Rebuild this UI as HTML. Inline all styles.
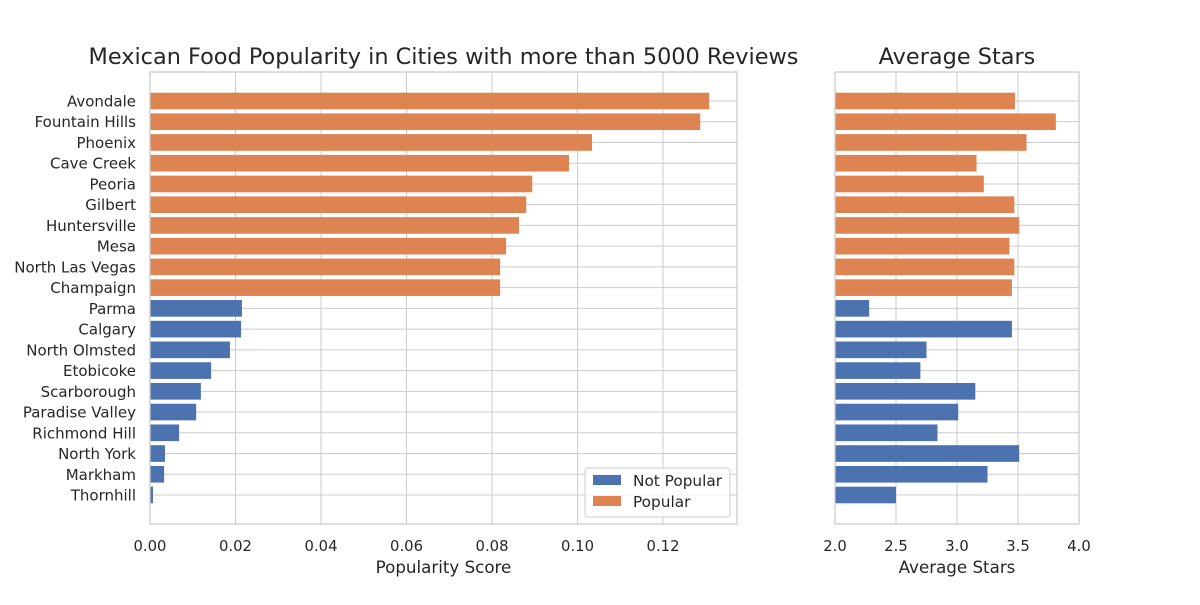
<!DOCTYPE html>
<html><head><meta charset="utf-8">
<style>
body{margin:0;background:#fff;}
svg text{font-family:"DejaVu Sans","Liberation Sans",sans-serif;fill:#262626;}
</style></head>
<body>
<svg id="chart" width="1200" height="600" xmlns="http://www.w3.org/2000/svg">
<rect width="1200" height="600" fill="#fff"/>
<g id="left"></g>
<g id="right"></g>
</svg>
<script>
const cities = ["Avondale","Fountain Hills","Phoenix","Cave Creek","Peoria","Gilbert","Huntersville","Mesa","North Las Vegas","Champaign","Parma","Calgary","North Olmsted","Etobicoke","Scarborough","Paradise Valley","Richmond Hill","North York","Markham","Thornhill"];
const popular = [1,1,1,1,1,1,1,1,1,1,0,0,0,0,0,0,0,0,0,0];
const popScores = [0.1308,0.1287,0.1034,0.098,0.0894,0.088,0.0863,0.0833,0.0819,0.0819,0.0215,0.0213,0.0187,0.0143,0.0119,0.0108,0.0068,0.0035,0.0033,0.0007];
const avgStars = [3.475,3.81,3.57,3.16,3.22,3.47,3.51,3.43,3.47,3.45,2.28,3.45,2.75,2.70,3.15,3.01,2.84,3.51,3.25,2.50];
const popTicks = [0,0.02,0.04,0.06,0.08,0.10,0.12];
const popTickLabels = ["0.00","0.02","0.04","0.06","0.08","0.10","0.12"];
const starTicks = [2.0,2.5,3.0,3.5,4.0];
const starTickLabels = ["2.0","2.5","3.0","3.5","4.0"];

const NS="http://www.w3.org/2000/svg";
const ORANGE="#dd8452", BLUE="#4c72b0";
function mk(parent,tag,attrs,text){const e=document.createElementNS(NS,tag);for(const k in attrs)e.setAttribute(k,attrs[k]);if(text!==undefined)e.textContent=text;parent.appendChild(e);return e;}
const plotTop=72,plotBottom=524;
const yRow=i=>101+i*(495-101)/19;
const rowH=20.8*0.8;

function panel(g,x0,x1,dmin,dmax,vals,ticks,labels,title,xlabel,showY){
  const sx=v=>x0+(v-dmin)/(dmax-dmin)*(x1-x0);
  ticks.forEach((t,i)=>{
    const l=mk(g,"line",{x1:sx(t),x2:sx(t),y1:plotTop,y2:plotBottom,stroke:"#cccccc","stroke-width":1});
    
    
    const tx=mk(g,"text",{x:sx(t),y:plotBottom+27,"text-anchor":"middle","font-size":14.8},labels[i]);
    
    
  });
  cities.forEach((c,i)=>{
    const l=mk(g,"line",{x1:x0,x2:x1,y1:yRow(i),y2:yRow(i),stroke:"#cccccc","stroke-width":1});
    
    
  });
  cities.forEach((c,i)=>{
    const r=mk(g,"rect",{x:sx(dmin),y:yRow(i)-rowH/2,width:sx(vals[i])-sx(dmin),height:rowH,fill:popular[i]?ORANGE:BLUE});
    
    
    if(showY){
      const t=mk(g,"text",{x:x0-14,y:yRow(i)+5.5,"text-anchor":"end","font-size":15},c);
      
      
    }
  });
  const fr=mk(g,"rect",{x:x0,y:plotTop,width:x1-x0,height:plotBottom-plotTop,fill:"none",stroke:"#cccccc","stroke-width":1.3});
  
  
  const ti=mk(g,"text",{x:(x0+x1)/2,y:64,"text-anchor":"middle","font-size":22.4},title);
  
  
  const xl=mk(g,"text",{x:(x0+x1)/2,y:573,"text-anchor":"middle","font-size":16.7},xlabel);
  
  
}
panel(document.getElementById("left"),150,737,0,0.1373,popScores,popTicks,popTickLabels,"Mexican Food Popularity in Cities with more than 5000 Reviews","Popularity Score",true);
panel(document.getElementById("right"),835,1079,2,4,avgStars,starTicks,starTickLabels,"Average Stars","Average Stars",false);

const lg=mk(document.getElementById("left"),"g",{});


mk(lg,"rect",{x:585,y:468,width:145,height:49,fill:"#fff","fill-opacity":0.8,stroke:"#cccccc",rx:3});
[["Not Popular",BLUE],["Popular",ORANGE]].forEach((e,i)=>{
  const eg=mk(lg,"g",{});
  
  
  mk(eg,"rect",{x:593,y:475+i*21,width:28,height:10,fill:e[1]});
  mk(eg,"text",{x:633,y:486+i*21,"font-size":15.3},e[0]);
});
</script>
</body></html>
